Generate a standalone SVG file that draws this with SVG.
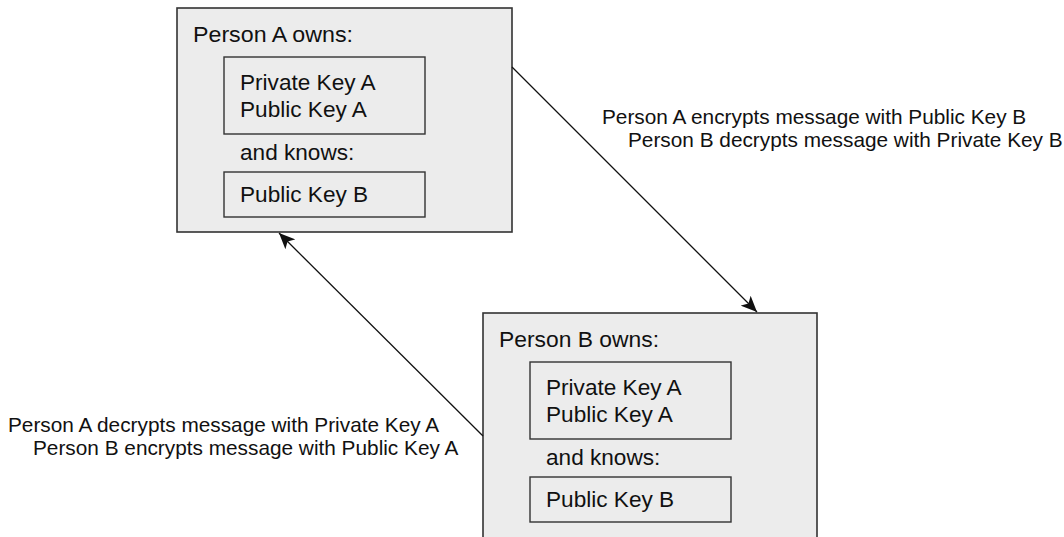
<svg xmlns="http://www.w3.org/2000/svg" width="1064" height="537" viewBox="0 0 1064 537">
<style>
.outer{fill:#ececec;stroke:#333;stroke-width:1.6}
.inner{fill:none;stroke:#333;stroke-width:1.4}
.bt{font-family:"Liberation Sans",Arial,sans-serif;font-size:22.6px;fill:#111}
.lb{font-family:"Liberation Sans",Arial,sans-serif;font-size:20.8px;fill:#111}
.conn{stroke:#111;stroke-width:1.3;fill:none}
</style>
<defs>
<marker id="ah" markerUnits="userSpaceOnUse" markerWidth="18" markerHeight="14" refX="16" refY="7" orient="auto">
<path d="M0,0 L16,7 L0,14 L4,7 Z" fill="#111"/>
</marker>
</defs>
<rect width="1064" height="537" fill="#fff"/>
<g id="personA">
<rect class="outer" x="177" y="8" width="335" height="224"/>
<text class="bt" x="193" y="42" textLength="160" lengthAdjust="spacingAndGlyphs">Person A owns:</text>
<rect class="inner" x="224" y="57" width="201" height="77"/>
<text class="bt" x="240" y="90">Private Key A</text>
<text class="bt" x="240" y="117">Public Key A</text>
<text class="bt" x="240" y="160">and knows:</text>
<rect class="inner" x="224" y="172" width="201" height="45"/>
<text class="bt" x="240" y="202">Public Key B</text>
</g>
<g id="personB">
<rect class="outer" x="483" y="313" width="334" height="240"/>
<text class="bt" x="499" y="347" textLength="160" lengthAdjust="spacingAndGlyphs">Person B owns:</text>
<rect class="inner" x="530" y="362" width="201" height="77"/>
<text class="bt" x="546" y="395">Private Key A</text>
<text class="bt" x="546" y="422">Public Key A</text>
<text class="bt" x="546" y="465">and knows:</text>
<rect class="inner" x="530" y="477" width="201" height="45"/>
<text class="bt" x="546" y="507">Public Key B</text>
</g>
<g id="connectors">
<line class="conn" x1="512" y1="67" x2="757" y2="312" marker-end="url(#ah)"/>
<line class="conn" x1="483" y1="436" x2="279" y2="233" marker-end="url(#ah)"/>
</g>
<g id="labels">
<text class="lb" x="602" y="124">Person A encrypts message with Public Key B</text>
<text class="lb" x="628" y="147">Person B decrypts message with Private Key B</text>
<text class="lb" x="8" y="432">Person A decrypts message with Private Key A</text>
<text class="lb" x="33" y="455">Person B encrypts message with Public Key A</text>
</g>
</svg>
